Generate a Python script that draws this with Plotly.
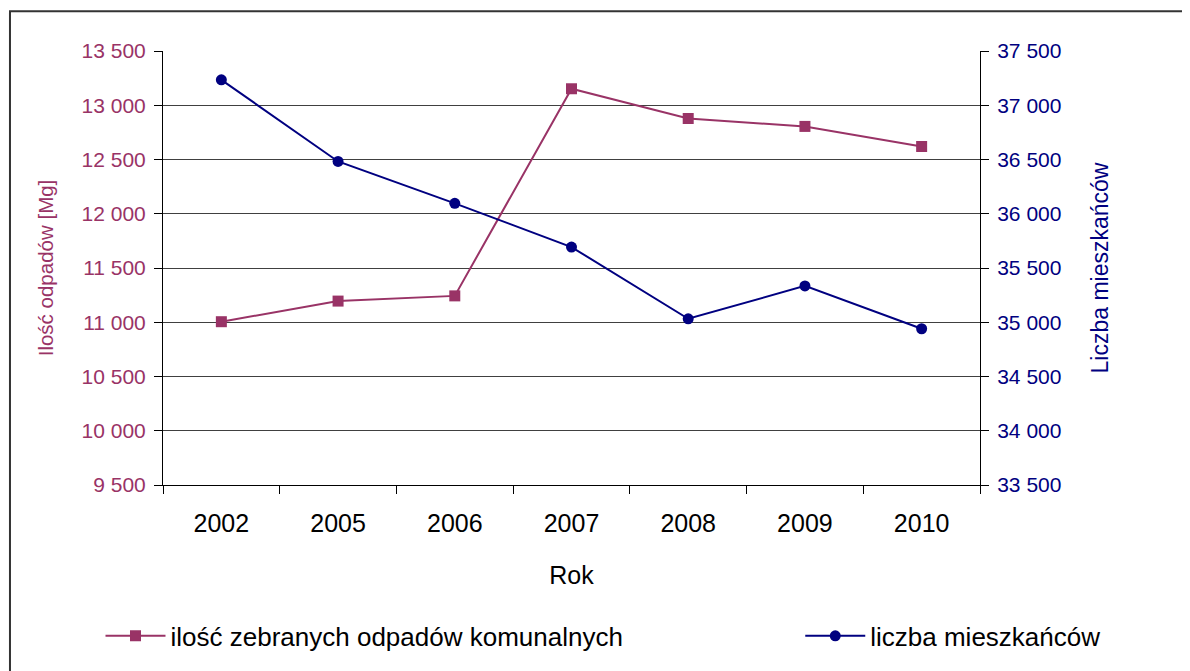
import plotly.graph_objects as go

years = ["2002", "2005", "2006", "2007", "2008", "2009", "2010"]
odpady = [11005, 11195, 11243, 13152, 12878, 12805, 12620]
mieszkancy = [37234, 36482, 36096, 35693, 35032, 35335, 34940]

left_ticks = [9500, 10000, 10500, 11000, 11500, 12000, 12500, 13000, 13500]
right_ticks = [33500, 34000, 34500, 35000, 35500, 36000, 36500, 37000, 37500]

MAG = "#993366"
NAVY = "#000080"
FONT = "Liberation Sans, Arial, sans-serif"

fig = go.Figure()
fig.add_trace(go.Scatter(
    x=years, y=odpady, name="ilość zebranych odpadów komunalnych",
    mode="lines+markers", line=dict(color=MAG, width=2),
    marker=dict(symbol="square", size=11, color=MAG), yaxis="y",
    showlegend=True))
fig.add_trace(go.Scatter(
    x=years, y=mieszkancy, name="liczba mieszkańców",
    mode="lines+markers", line=dict(color=NAVY, width=2),
    marker=dict(symbol="circle", size=11, color=NAVY), yaxis="y2",
    legend="legend2", showlegend=True))

legend_common = dict(font=dict(size=26, color="black"), itemwidth=60,
                     bgcolor="rgba(0,0,0,0)", yanchor="top", xanchor="left",
                     orientation="v")

fig.update_layout(
    width=1182, height=663,
    showlegend=True,
    margin=dict(l=155, r=210, t=43, b=184),
    paper_bgcolor="white", plot_bgcolor="white",
    separators=", ",
    font=dict(family=FONT, color="black"),
    xaxis=dict(
        type="category", tickson="boundaries", ticks="outside", ticklen=8,
        tickcolor="black", showline=True, linecolor="black", linewidth=1,
        showgrid=False, tickfont=dict(size=25, color="black"),
        ticklabelstandoff=16,
        title=dict(text="Rok", font=dict(size=25, color="black"), standoff=30),
        range=[-0.5, 6.5], automargin=False),
    yaxis=dict(
        range=[9500, 13500], tickvals=left_ticks, tickformat=",d",
        ticks="outside", ticklen=8, tickcolor="black",
        showline=True, linecolor="black", linewidth=1,
        showgrid=True, gridcolor="#404040", gridwidth=1,
        tickfont=dict(size=21, color=MAG), zeroline=False,
        ticklabelstandoff=4,
        title=dict(text="Ilość odpadów [Mg]", font=dict(size=20.5, color=MAG), standoff=22),
        automargin=False),
    yaxis2=dict(
        range=[33500, 37500], tickvals=right_ticks, tickformat=",d",
        overlaying="y", side="right",
        ticks="outside", ticklen=8, tickcolor="black",
        showline=True, linecolor="black", linewidth=1,
        showgrid=False, zeroline=False,
        tickfont=dict(size=21, color=NAVY),
        ticklabelstandoff=4,
        title=dict(text="Liczba mieszkańców", font=dict(size=23, color=NAVY), standoff=31),
        automargin=False),
    legend=dict(x=-0.0765, y=-0.2936, **legend_common),
    legend2=dict(x=0.780, y=-0.2936, **legend_common),
    shapes=[dict(type="rect", xref="paper", yref="paper",
                 x0=-0.1873, x1=1.4, y0=-1.0, y1=1.0917,
                 line=dict(color="#333333", width=2), layer="below")],
)

fig.write_html("out.html")
